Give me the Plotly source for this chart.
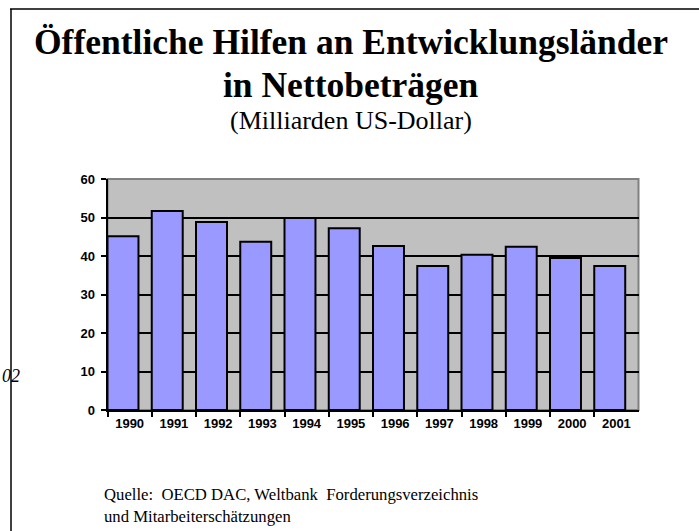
import plotly.graph_objects as go

years = ["1990", "1991", "1992", "1993", "1994", "1995", "1996", "1997", "1998", "1999", "2000", "2001"]
values = [45.1, 51.7, 48.8, 43.7, 49.9, 47.2, 42.6, 37.4, 40.3, 42.4, 39.5, 37.4]
y_ticks = [0, 10, 20, 30, 40, 50, 60]

W, H = 699, 531
L, R, T, B = 107.5, 638.5, 179, 410

fig = go.Figure()
fig.add_trace(go.Bar(
    x=years, y=values,
    offset=-0.5, width=0.7,
    marker=dict(color="#9999FF", line=dict(color="black", width=2)),
    hoverinfo="x+y",
))

tickfont = dict(family="Liberation Sans, Arial", size=13, color="black", weight="bold")
fig.update_layout(
    width=W, height=H, autosize=False,
    margin=dict(l=0, r=0, t=0, b=0),
    paper_bgcolor="white",
    plot_bgcolor="#C0C0C0",
    showlegend=False,
    xaxis=dict(
        domain=[L / W, R / W],
        type="category",
        tickson="boundaries",
        ticks="outside", ticklen=5, tickwidth=2, tickcolor="black",
        showline=True, linecolor="black", linewidth=2,
        showgrid=False,
        tickfont=tickfont,
        range=[-0.5, 11.5],
        automargin=False,
    ),
    yaxis=dict(
        domain=[(H - B) / H, (H - T) / H],
        range=[0, 60],
        tickvals=y_ticks,
        ticks="outside", ticklen=5, tickwidth=2, tickcolor="black",
        showline=True, linecolor="black", linewidth=2,
        showgrid=True, gridcolor="black", gridwidth=2,
        zeroline=False,
        tickfont=tickfont,
        ticklabelstandoff=3,
        automargin=False,
    ),
)

# gray plot-area border (top and right)
fig.add_shape(type="rect", xref="x domain", yref="y domain", x0=0, x1=1, y0=0, y1=1,
              line=dict(color="#808080", width=2), fillcolor="rgba(0,0,0,0)", layer="below")

# slide frame
fig.add_shape(type="line", xref="paper", yref="paper", x0=10 / W, x1=1.0, y0=(H - 9) / H, y1=(H - 9) / H,
              line=dict(color="black", width=1.5))
fig.add_shape(type="line", xref="paper", yref="paper", x0=11 / W, x1=11 / W, y0=0, y1=(H - 9) / H,
              line=dict(color="black", width=1.5))

serif = "Liberation Serif, Times New Roman"
fig.add_annotation(text="<b>Öffentliche Hilfen an Entwicklungsländer</b>", x=351 / W, y=(H - 42) / H,
                   xref="paper", yref="paper", showarrow=False, xanchor="center", yanchor="middle",
                   font=dict(family=serif, size=35.5, color="black"))
fig.add_annotation(text="<b>in Nettobeträgen</b>", x=351 / W, y=(H - 85) / H,
                   xref="paper", yref="paper", showarrow=False, xanchor="center", yanchor="middle",
                   font=dict(family=serif, size=35.5, color="black"))
fig.add_annotation(text="(Milliarden US-Dollar)", x=351 / W, y=(H - 120) / H,
                   xref="paper", yref="paper", showarrow=False, xanchor="center", yanchor="middle",
                   font=dict(family=serif, size=26, color="black"))
fig.add_annotation(text="Quelle:  OECD DAC, Weltbank  Forderungsverzeichnis<br>und Mitarbeiterschätzungen",
                   x=102 / W, y=(H - 505) / H, xref="paper", yref="paper", showarrow=False,
                   xanchor="left", yanchor="middle", align="left",
                   font=dict(family=serif, size=16.7, color="black"))
fig.add_annotation(text="<i>02</i>", x=0, y=(H - 376) / H, xref="paper", yref="paper",
                   showarrow=False, xanchor="left", yanchor="middle",
                   font=dict(family=serif, size=18, color="black"))

fig.write_html("out.html", config={"displayModeBar": False},
               post_script="document.body.style.margin='0';")
